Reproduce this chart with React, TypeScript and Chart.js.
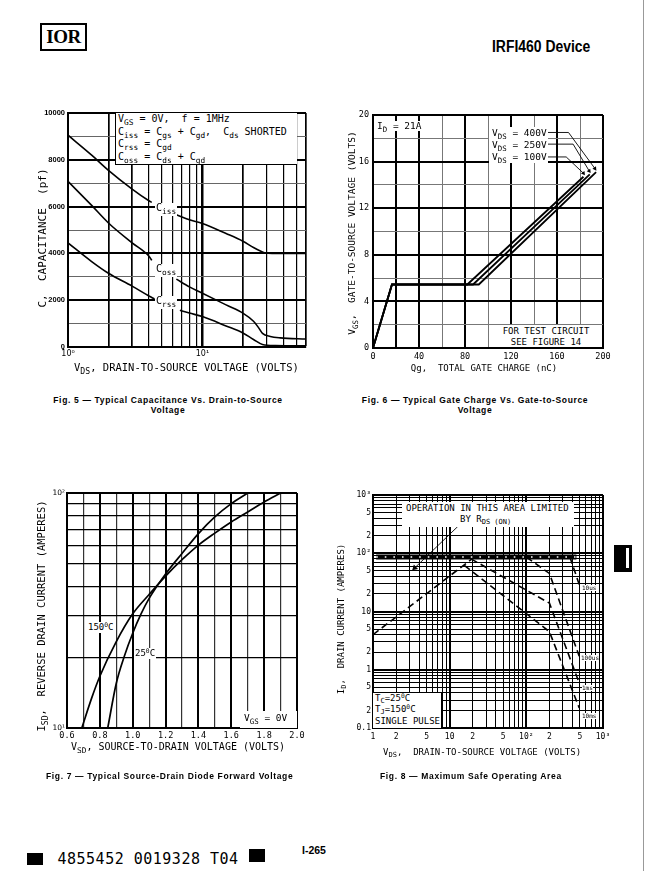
import React, { useEffect, useRef } from "react";
import { Chart, registerables } from "chart.js";

Chart.register(...registerables);

/* ---------------- Fig. 5 : capacitance ---------------- */
const CAP_X_GRID = [1, 2, 3, 4, 5, 6, 7, 8, 9, 10, 20, 30, 40, 50, 59];
const CAP_X_LABELS = ["10⁰", "", "", "", "", "", "", "", "", "10¹", "", "", "", "", ""];
const CAP_Y_GRID = [0, 1000, 2000, 3000, 4000, 5000, 6000, 7000, 8000, 9000, 10000];
const CAP_Y_LABELS = ["0", "", "2000", "", "4000", "", "6000", "", "8000", "", "10000"];
const CISS_V = [1, 1.5, 2, 3, 4, 4.2, 5, 6.4, 8, 10, 15, 20, 24, 27, 29, 33, 59];
const CISS_PF = [9050, 8200, 7550, 6750, 6250, 6180, null, 5650, 5440, 5280, 4850, 4520, 4250, 4100, 4030, 4000, 4000];
const COSS_V = [1, 1.5, 2, 3, 4, 4.2, 5, 6.4, 8, 10, 15, 20, 24, 26, 28, 32, 38, 59];
const COSS_PF = [7080, 6050, 5300, 4450, 3880, 3700, null, 2900, 2570, 2300, 1800, 1450, 1100, 850, 580, 450, 390, 340];
const CRSS_V = [1, 1.5, 2, 3, 4, 4.4, 5, 6.8, 8, 10, 15, 20, 24, 28, 35, 59];
const CRSS_PF = [4450, 3650, 3150, 2600, 2180, 2050, null, 1570, 1450, 1300, 900, 600, 320, 110, 65, 55];

/* ---------------- Fig. 6 : gate charge ---------------- */
const QG_X_GRID = [0, 20, 40, 60, 80, 100, 120, 140, 160, 180, 200];
const QG_X_LABELS = ["0", "", "40", "", "80", "", "120", "", "160", "", "200"];
const QG_Y_GRID = [0, 2, 4, 6, 8, 10, 12, 14, 16, 18, 20];
const QG_Y_LABELS = ["0", "", "4", "", "8", "", "12", "", "16", "", "20"];
const QG400_Q = [0, 16.5, 92, 194];
const QG400_V = [0, 5.45, 5.45, 15.1];
const QG250_Q = [0, 16.5, 87, 188.5];
const QG250_V = [0, 5.45, 5.45, 14.9];
const QG100_Q = [0, 16.5, 82, 183];
const QG100_V = [0, 5.45, 5.45, 14.7];
const LEAD400_Q = [152, 170, 193];
const LEAD400_V = [18.5, 18.5, 15.4];
const LEAD250_Q = [152, 174, 188];
const LEAD250_V = [17.5, 17.5, 15.2];
const LEAD100_Q = [152, 168, 183];
const LEAD100_V = [16.4, 16.4, 15.0];

/* ---------------- Fig. 7 : source-drain diode ---------------- */
const SD_X_GRID = [0.6, 0.7, 0.8, 0.9, 1.0, 1.1, 1.2, 1.3, 1.4, 1.5, 1.6, 1.7, 1.8, 1.9, 2.0];
const SD_X_LABELS = ["0.6", "", "0.8", "", "1.0", "", "1.2", "", "1.4", "", "1.6", "", "1.8", "", "2.0"];
const SD_Y_GRID = [10, 20, 30, 40, 50, 60, 70, 80, 90, 100];
const SD_Y_LABELS = ["10¹", "", "", "", "", "", "", "", "", "10²"];
const SD150_V = [0.69, 0.75, 0.8, 0.9, 1.0, 1.1, 1.2, 1.3, 1.4, 1.5, 1.6, 1.7, 1.8, 1.9];
const SD150_I = [10, 13.4, 16.6, 23.3, 30.6, 37, 44.3, 52, 60, 67.5, 75.3, 83, 91.6, 100];
const SD25_V = [0.848, 0.9, 0.95, 1.0, 1.05, 1.1, 1.2, 1.3, 1.4, 1.5, 1.6, 1.7];
const SD25_I = [10, 15.5, 20.3, 25.3, 30.5, 35.6, 45.2, 55.3, 67.2, 79.1, 90.1, 100];

/* ---------------- Fig. 8 : safe operating area ---------------- */
const SOA_X_GRID = [1, 2, 3, 4, 5, 6, 7, 8, 9, 10, 20, 30, 40, 50, 60, 70, 80, 90, 100, 200, 300, 400, 500, 600, 700, 800, 900, 1000];
const SOA_X_LABELS = ["1", "2", "", "", "5", "", "", "", "", "10", "2", "", "", "5", "", "", "", "", "10²", "2", "", "", "5", "", "", "", "", "10³"];
const SOA_Y_GRID = [0.1, 0.2, 0.3, 0.4, 0.5, 0.6, 0.7, 0.8, 0.9, 1, 2, 3, 4, 5, 6, 7, 8, 9, 10, 20, 30, 40, 50, 60, 70, 80, 90, 100, 200, 300, 400, 500, 600, 700, 800, 900, 1000];
const SOA_Y_LABELS = ["0.1", "2", "", "", "5", "", "", "", "", "1", "2", "", "", "5", "", "", "", "", "10", "2", "", "", "5", "", "", "", "", "10²", "2", "", "", "5", "", "", "", "", "10³"];
const RDS_V = [1, 21];
const RDS_I = [4.0, 86];
const LIMIT_V = [1.1, 450];
const LIMIT_I = [86, 86];
const MS10_V = [15.5, 200, 490];
const MS10_I = [62, 4.5, 0.22];
const MS1_V = [19, 200, 490];
const MS1_I = [80, 13.9, 0.59];
const US100_V = [100, 200, 490];
const US100_I = [86, 45, 1.7];
const US10_V = [370, 490];
const US10_I = [86, 29];
const ARROW_V = [12.8, 3.5];
const ARROW_I = [289, 56];

/* ---------------- helpers ---------------- */
const MONO = '"DejaVu Sans Mono", monospace';
const SANS = '"Liberation Sans", Arial, sans-serif';
const PL = 48, PT = 10, PR = 16, PB = 22;

type Rect = { l: number; t: number; w: number; h: number };

const pts = (xs: number[], ys: (number | null)[]) => xs.map((x, i) => ({ x, y: ys[i] }));

function curve(xs: number[], ys: (number | null)[], extra: any = {}) {
  return {
    data: pts(xs, ys),
    showLine: true,
    borderColor: "#000",
    backgroundColor: "#000",
    borderWidth: 1.6,
    pointRadius: 0,
    fill: false,
    tension: 0,
    spanGaps: false,
    ...extra,
  };
}

function axis(o: any) {
  return {
    type: o.type,
    position: o.axis === "x" ? "bottom" : "left",
    min: o.min,
    max: o.max,
    bounds: "data",
    afterBuildTicks: (s: any) => {
      s.ticks = o.grid.map((v: number) => ({ value: v }));
      s.min = o.min;
      s.max = o.max;
    },
    afterFit: (s: any) => {
      if (o.axis === "x") s.height = PB;
      else s.width = PL;
    },
    ticks: {
      autoSkip: false,
      maxRotation: 0,
      minRotation: 0,
      color: "#000",
      font: o.font,
      padding: o.pad,
      callback: (_v: any, i: number) => o.labels[i] ?? "",
    },
    grid: {
      drawTicks: false,
      color: (c: any) => o.lc(c.tick ? c.tick.value : 0, c.index),
      lineWidth: (c: any) => o.lw(c.tick ? c.tick.value : 0, c.index),
    },
    border: { display: true, color: "#000", width: 2 },
  };
}

function base(scales: any, datasets: any[]) {
  return {
    type: "scatter",
    data: { datasets },
    options: {
      responsive: false,
      animation: false,
      events: [],
      layout: { padding: { left: 0, top: PT, right: PR, bottom: 0 } },
      plugins: { legend: { display: false }, tooltip: { enabled: false } },
      scales,
    },
  };
}

const isDecade = (v: number) => Math.abs(Math.log10(v) - Math.round(Math.log10(v))) < 1e-9;

const fig5 = () =>
  base(
    {
      x: axis({
        type: "logarithmic", min: 1, max: 59, grid: CAP_X_GRID, labels: CAP_X_LABELS, axis: "x",
        font: { family: "DejaVu Sans", size: 8 }, pad: 2,
        lw: (v: number) => (v === 10 ? 2.5 : v === 2 || v === 3 || v === 20 || v === 59 ? 1.7 : 1.2),
        lc: () => "#000",
      }),
      y: axis({
        type: "linear", min: 0, max: 10000, grid: CAP_Y_GRID, labels: CAP_Y_LABELS, axis: "y",
        font: { family: SANS, size: 7.5, weight: "bold" }, pad: 3,
        lw: (_v: number, i: number) => (i % 2 === 0 ? 2 : 1),
        lc: (_v: number, i: number) => (i % 2 === 0 ? "#000" : "#666"),
      }),
    },
    [
      curve(CISS_V, CISS_PF, { cubicInterpolationMode: "monotone" }),
      curve(COSS_V, COSS_PF, { cubicInterpolationMode: "monotone" }),
      curve(CRSS_V, CRSS_PF, { cubicInterpolationMode: "monotone" }),
    ]
  );

const leader = (q: number[], v: number[]) =>
  curve(q, v, {
    borderWidth: 0.9,
    pointRadius: (c: any) => (c.dataIndex === q.length - 1 ? 2.5 : 0),
    pointStyle: "triangle",
    pointRotation: 145,
    pointBackgroundColor: "#000",
    pointBorderWidth: 0,
  });

const fig6 = () =>
  base(
    {
      x: axis({
        type: "linear", min: 0, max: 200, grid: QG_X_GRID, labels: QG_X_LABELS, axis: "x",
        font: { family: MONO, size: 8.5 }, pad: 4,
        lw: (_v: number, i: number) => (i % 2 === 0 || i === 1 ? 2 : 1),
        lc: (_v: number, i: number) => (i % 2 === 0 || i === 1 ? "#000" : "#777"),
      }),
      y: axis({
        type: "linear", min: 0, max: 20, grid: QG_Y_GRID, labels: QG_Y_LABELS, axis: "y",
        font: { family: MONO, size: 8.5 }, pad: 4,
        lw: (_v: number, i: number) => (i % 2 === 0 ? 2 : 1),
        lc: (_v: number, i: number) => (i % 2 === 0 ? "#000" : "#777"),
      }),
    },
    [
      curve(QG400_Q, QG400_V, { borderWidth: 1.8 }),
      curve(QG250_Q, QG250_V, { borderWidth: 1.8 }),
      curve(QG100_Q, QG100_V, { borderWidth: 1.8 }),
      leader(LEAD400_Q, LEAD400_V),
      leader(LEAD250_Q, LEAD250_V),
      leader(LEAD100_Q, LEAD100_V),
    ]
  );

const fig7 = () =>
  base(
    {
      x: axis({
        type: "linear", min: 0.6, max: 2.0, grid: SD_X_GRID, labels: SD_X_LABELS, axis: "x",
        font: { family: MONO, size: 8.5 }, pad: 3,
        lw: (_v: number, i: number) => (i % 2 === 0 ? 2 : 1.2),
        lc: (_v: number, i: number) => (i % 2 === 0 ? "#000" : "#333"),
      }),
      y: axis({
        type: "logarithmic", min: 10, max: 100, grid: SD_Y_GRID, labels: SD_Y_LABELS, axis: "y",
        font: { family: "DejaVu Sans", size: 7.5 }, pad: 2,
        lw: (v: number) => (v === 10 || v === 100 ? 2 : 1.2),
        lc: () => "#000",
      }),
    },
    [
      curve(SD150_V, SD150_I, { cubicInterpolationMode: "monotone", borderWidth: 1.7 }),
      curve(SD25_V, SD25_I, { cubicInterpolationMode: "monotone", borderWidth: 1.7 }),
    ]
  );

const dashed = { borderDash: [7, 4], borderWidth: 1.6 };

const fig8 = () =>
  base(
    {
      x: axis({
        type: "logarithmic", min: 1, max: 1000, grid: SOA_X_GRID, labels: SOA_X_LABELS, axis: "x",
        font: { family: MONO, size: 8 }, pad: 4,
        lw: (v: number) => (isDecade(v) ? 2 : 1),
        lc: () => "#000",
      }),
      y: axis({
        type: "logarithmic", min: 0.1, max: 1000, grid: SOA_Y_GRID, labels: SOA_Y_LABELS, axis: "y",
        font: { family: MONO, size: 8 }, pad: 2,
        lw: (v: number) => (isDecade(v) ? 2 : 1),
        lc: () => "#000",
      }),
    },
    [
      curve(LIMIT_V, LIMIT_I, { borderWidth: 1.6, borderColor: "#fff", borderDash: [1.6, 7] }),
      curve(LIMIT_V, LIMIT_I, { borderWidth: 5 }),
      curve(RDS_V, RDS_I, dashed),
      curve(MS10_V, MS10_I, dashed),
      curve(MS1_V, MS1_I, dashed),
      curve(US100_V, US100_I, dashed),
      curve(US10_V, US10_I, dashed),
      curve(ARROW_V, ARROW_I, {
        borderWidth: 0.9,
        pointRadius: (c: any) => (c.dataIndex === 1 ? 3.5 : 0),
        pointStyle: "triangle",
        pointRotation: 226,
        pointBackgroundColor: "#000",
        pointBorderWidth: 0,
      }),
    ]
  );

function ChartBox({ rect, build }: { rect: Rect; build: () => any }) {
  const ref = useRef<HTMLCanvasElement | null>(null);
  useEffect(() => {
    if (!ref.current) return;
    const chart = new Chart(ref.current, build());
    return () => chart.destroy();
  }, []);
  const W = rect.w + PL + PR;
  const H = rect.h + PT + PB;
  return (
    <canvas
      ref={ref}
      width={W}
      height={H}
      style={{ position: "absolute", left: rect.l - PL, top: rect.t - PT, width: W, height: H }}
    />
  );
}

const Sub = ({ children }: any) => (
  <span style={{ fontSize: "0.78em", position: "relative", top: "0.35em" }}>{children}</span>
);
const Sup = ({ children }: any) => (
  <span style={{ fontSize: "0.7em", position: "relative", top: "-0.45em" }}>{children}</span>
);

const T = ({ x, y, s = 10, f = MONO, w = 400, center = false, bg, style, children }: any) => (
  <div
    style={{
      position: "absolute",
      left: x,
      top: y,
      fontSize: s,
      fontFamily: f,
      fontWeight: w,
      lineHeight: 1,
      whiteSpace: "pre",
      color: "#000",
      background: bg,
      transform: center ? "translateX(-50%)" : undefined,
      ...style,
    }}
  >
    {children}
  </div>
);

const VT = ({ cx, cy, s = 10, children }: any) => (
  <div
    style={{
      position: "absolute",
      left: cx,
      top: cy,
      fontSize: s,
      fontFamily: MONO,
      lineHeight: 1,
      whiteSpace: "pre",
      transform: "translate(-50%, -50%) rotate(-90deg)",
    }}
  >
    {children}
  </div>
);

const Box = ({ x, y, w, h, style, children }: any) => (
  <div style={{ position: "absolute", left: x, top: y, width: w, height: h, background: "#fff", boxSizing: "border-box", ...style }}>
    {children}
  </div>
);

const capStyle: any = {
  position: "absolute",
  fontFamily: SANS,
  fontWeight: 700,
  fontSize: 8.5,
  letterSpacing: 0.65,
  lineHeight: "9.5px",
  whiteSpace: "pre",
};

const Caption = ({ cx, y, lines }: { cx: number; y: number; lines: string[] }) => (
  <div style={{ ...capStyle, left: cx, top: y, transform: "translateX(-50%)", textAlign: "center" }}>
    {lines.map((l, i) => (
      <div key={i}>{l}</div>
    ))}
  </div>
);

export default function App() {
  return (
    <div
      style={{
        position: "absolute",
        left: 0,
        top: 0,
        width: 645,
        height: 871,
        background: "#fff",
        overflow: "hidden",
        color: "#000",
      }}
    >
      {/* header */}
      <div
        style={{
          position: "absolute", left: 40, top: 23, width: 47, height: 28, border: "2px solid #000",
          boxSizing: "border-box", display: "flex", alignItems: "center", justifyContent: "center",
          fontFamily: '"Liberation Serif", serif', fontWeight: 700, fontSize: 19, letterSpacing: -0.5,
        }}
      >
        IOR
      </div>
      <T x={492} y={39} s={16} f={SANS} w={700} style={{ transform: "scaleX(0.87)", transformOrigin: "left top" }}>
        IRFI460 Device
      </T>

      {/* charts */}
      <ChartBox rect={{ l: 68, t: 113, w: 238, h: 234 }} build={fig5} />
      <ChartBox rect={{ l: 373, t: 115, w: 230, h: 233 }} build={fig6} />
      <ChartBox rect={{ l: 67, t: 493, w: 230, h: 235 }} build={fig7} />
      <ChartBox rect={{ l: 373, t: 495, w: 230, h: 233 }} build={fig8} />

      {/* Fig 5 overlays */}
      <Box x={115} y={113} w={182} h={52} style={{ borderLeft: "1.5px solid #000", borderBottom: "1.5px solid #000" }} />
      <T x={118} y={114} s={10}>V<Sub>GS</Sub> = 0V,  f = 1MHz</T>
      <T x={118} y={127} s={10}>C<Sub>iss</Sub> = C<Sub>gs</Sub> + C<Sub>gd</Sub>,  C<Sub>ds</Sub> SHORTED</T>
      <T x={118} y={139} s={10}>C<Sub>rss</Sub> = C<Sub>gd</Sub></T>
      <T x={118} y={152} s={10}>C<Sub>oss</Sub> = C<Sub>ds</Sub> + C<Sub>gd</Sub></T>
      <T x={155} y={203} s={10} bg="#fff" style={{ padding: "0 1px 3px 1px" }}>C<Sub>iss</Sub></T>
      <T x={155} y={264} s={10} bg="#fff" style={{ padding: "0 1px 3px 1px" }}>C<Sub>oss</Sub></T>
      <T x={155} y={296} s={10} bg="#fff" style={{ padding: "0 1px 3px 1px" }}>C<Sub>rss</Sub></T>
      <T x={74} y={362} s={10.5}>V<Sub>DS</Sub>, DRAIN-TO-SOURCE VOLTAGE (VOLTS)</T>
      <VT cx={42} cy={238} s={11}>C,  CAPACITANCE  (pf)</VT>

      {/* Fig 6 overlays */}
      <T x={377} y={121} s={9.5} bg="#fff">I<Sub>D</Sub> = 21A</T>
      <Box x={489} y={127} w={59} h={36} />
      <T x={492} y={128} s={9.5}>V<Sub>DS</Sub> = 400V</T>
      <T x={492} y={140} s={9.5}>V<Sub>DS</Sub> = 250V</T>
      <T x={492} y={152} s={9.5}>V<Sub>DS</Sub> = 100V</T>
      <Box x={492} y={325} w={108} h={22} />
      <T x={546} y={327} s={9} center>FOR TEST CIRCUIT</T>
      <T x={546} y={338} s={9} center>SEE FIGURE 14</T>
      <T x={484} y={364} s={9} center>Qg,  TOTAL GATE CHARGE (nC)</T>
      <VT cx={352} cy={233} s={9.5}>V<Sub>GS</Sub>,  GATE-TO-SOURCE VOLTAGE (VOLTS)</VT>

      {/* Fig 7 overlays */}
      <T x={87} y={622} s={9} bg="#fff" style={{ padding: "1px" }}>150<Sup>0</Sup>C</T>
      <T x={134} y={648} s={9} bg="#fff" style={{ padding: "1px" }}>25<Sup>0</Sup>C</T>
      <Box x={240} y={711} w={57} h={17} />
      <T x={244} y={713} s={9.5}>V<Sub>GS</Sub> = 0V</T>
      <T x={71} y={742} s={10}>V<Sub>SD</Sub>, SOURCE-TO-DRAIN VOLTAGE (VOLTS)</T>
      <VT cx={41} cy={616} s={10.5}>I<Sub>SD</Sub>,  REVERSE DRAIN CURRENT (AMPERES)</VT>

      {/* Fig 8 overlays */}
      <Box x={402} y={502} w={172} h={25} />
      <T x={406} y={504} s={9}>OPERATION IN THIS AREA LIMITED</T>
      <T x={460} y={515} s={9}>BY R<Sub>DS (ON)</Sub></T>
      <Box x={373} y={692} w={69} h={36} style={{ borderTop: "1px solid #000", borderRight: "1px solid #000" }} />
      <T x={375} y={694} s={9}>T<Sub>C</Sub>=25<Sup>0</Sup>C</T>
      <T x={375} y={705} s={9}>T<Sub>J</Sub>=150<Sup>0</Sup>C</T>
      <T x={375} y={717} s={9}>SINGLE PULSE</T>
      <T x={582} y={585} s={6} bg="#fff">10us</T>
      <T x={581} y={655} s={6} bg="#fff">100us</T>
      <T x={582} y={685} s={6} bg="#fff">1ms</T>
      <T x={582} y={713} s={6} bg="#fff">10ms</T>
      <T x={383} y={748} s={9}>V<Sub>DS</Sub>,  DRAIN-TO-SOURCE VOLTAGE (VOLTS)</T>
      <VT cx={341} cy={619} s={9}>I<Sub>D</Sub>,  DRAIN CURRENT (AMPERES)</VT>

      {/* captions */}
      <Caption cx={168} y={396} lines={["Fig. 5 — Typical Capacitance Vs. Drain-to-Source", "Voltage"]} />
      <Caption cx={475} y={396} lines={["Fig. 6 — Typical Gate Charge Vs. Gate-to-Source", "Voltage"]} />
      <div style={{ ...capStyle, left: 46, top: 772 }}>Fig. 7 — Typical Source-Drain Diode Forward Voltage</div>
      <div style={{ ...capStyle, left: 380, top: 772 }}>Fig. 8 — Maximum Safe Operating Area</div>

      {/* side tab */}
      <div style={{ position: "absolute", left: 614, top: 545, width: 18, height: 27, background: "#000" }}>
        <div style={{ position: "absolute", left: 11.5, top: 3, width: 3, height: 20, background: "#fff" }} />
      </div>

      {/* footer */}
      <div style={{ position: "absolute", left: 27, top: 853, width: 16, height: 12, background: "#000" }} />
      <T x={57.5} y={852} s={15} style={{ letterSpacing: 0.5 }}>4855452 0019328 T04</T>
      <div style={{ position: "absolute", left: 249, top: 849, width: 16, height: 13, background: "#000" }} />
      <T x={302} y={845} s={10.5} f={SANS} w={700}>I-265</T>

      {/* scan edges */}
      <div style={{ position: "absolute", left: 643, top: 0, width: 1, height: 871, background: "#999" }} />
    </div>
  );
}
